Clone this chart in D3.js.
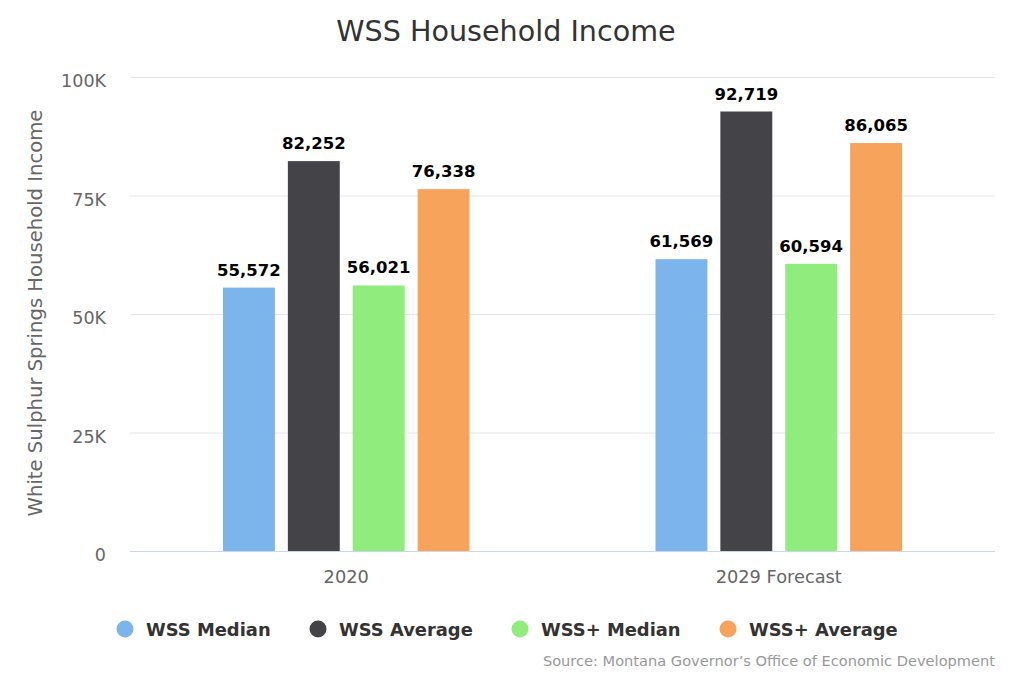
<!DOCTYPE html>
<html><head><meta charset="utf-8">
<script src="https://cdn.jsdelivr.net/npm/d3@7"></script>
<style>body{margin:0;background:#fff;} text{font-family:"DejaVu Sans",sans-serif;}</style>
</head><body>
<svg id="c" width="1012" height="675"></svg>
<script>
const categories = ["2020", "2029 Forecast"];
const seriesNames = ["WSS Median", "WSS Average", "WSS+ Median", "WSS+ Average"];
const seriesColors = ["#7cb5ec", "#434348", "#90ed7d", "#f7a35c"];
const wssMedian = [55572, 61569];
const wssAverage = [82252, 92719];
const wssPlusMedian = [56021, 60594];
const wssPlusAverage = [76338, 86065];
const yTicks = [0, 25000, 50000, 75000, 100000];
const yTickLabels = ["0", "25K", "50K", "75K", "100K"];
const seriesValues = [wssMedian, wssAverage, wssPlusMedian, wssPlusAverage];

const svg = d3.select("#c");
const W = 1012, H = 675;
const m = {left: 130, right: 995, top: 77, bottom: 551};

const x0 = d3.scaleBand().domain(categories).range([m.left, m.right]).paddingInner(0).paddingOuter(0);
const x1 = d3.scaleBand().domain(seriesNames).range([0, x0.bandwidth() * 0.6]).paddingInner(0.2).paddingOuter(0.1);
const y = d3.scaleLinear().domain([0, 100000]).range([m.bottom, m.top]);

// title
svg.append("text").attr("x", 506).attr("y", 41).attr("text-anchor", "middle")
  .attr("font-size", 28.6).attr("fill", "#333").text("WSS Household Income");

// gridlines
const yAxis = d3.axisLeft(y).tickValues(yTicks).tickFormat((d, i) => yTickLabels[i]).tickSize(0).tickPadding(0);
svg.append("g").selectAll("line").data(yTicks.filter(d => d > 0)).join("line")
  .attr("x1", m.left).attr("x2", m.right).attr("y1", d => y(d) + 0.5).attr("y2", d => y(d) + 0.5)
  .attr("stroke", "#e6e6e6").attr("stroke-width", 1);

const ga = svg.append("g").attr("transform", `translate(${m.left - 24},0)`).call(yAxis);
ga.select(".domain").remove();
ga.selectAll("text").attr("font-size", 17.5).attr("fill", "#666").attr("font-family", "DejaVu Sans").attr("dy", "0.55em");

// y title
svg.append("text").attr("transform", `translate(42,${(m.top + m.bottom) / 2 - 1}) rotate(-90)`)
  .attr("text-anchor", "middle").attr("font-size", 19.6).attr("fill", "#666")
  .text("White Sulphur Springs Household Income");

// bars
const groups = svg.append("g").selectAll("g").data(categories).join("g")
  .attr("transform", d => `translate(${x0(d) + x0.bandwidth() * 0.2},0)`);
groups.selectAll("rect").data((c, ci) => seriesNames.map((s, si) => ({s, si, v: seriesValues[si][ci]})))
  .join("rect")
  .attr("x", d => x1(d.s)).attr("width", x1.bandwidth())
  .attr("y", d => y(d.v)).attr("height", d => y(0) - y(d.v))
  .attr("fill", d => seriesColors[d.si]);
groups.selectAll("text.lbl").data((c, ci) => seriesNames.map((s, si) => ({s, si, v: seriesValues[si][ci]})))
  .join("text").attr("class", "lbl")
  .attr("x", d => x1(d.s) + x1.bandwidth() / 2).attr("y", d => y(d.v) - 12)
  .attr("text-anchor", "middle").attr("font-size", 16.5).attr("font-weight", "bold").attr("fill", "#000")
  .text(d => d3.format(",")(d.v));

// x axis line
svg.append("line").attr("x1", m.left).attr("x2", m.right).attr("y1", m.bottom + 0.5).attr("y2", m.bottom + 0.5)
  .attr("stroke", "#ccd6eb").attr("stroke-width", 1);
svg.append("g").selectAll("text").data(categories).join("text")
  .attr("x", d => x0(d) + x0.bandwidth() / 2).attr("y", 583).attr("text-anchor", "middle")
  .attr("font-size", 17.8).attr("fill", "#666").text(d => d);

// legend
const legendX = [125, 318, 520, 728];
const lg = svg.append("g").selectAll("g").data(seriesNames).join("g")
  .attr("transform", (d, i) => `translate(${legendX[i]},629)`);
lg.append("circle").attr("r", 8.5).attr("fill", (d, i) => seriesColors[i]);
lg.append("text").attr("x", 21).attr("y", 7).attr("font-size", 17.9).attr("font-weight", "bold").attr("fill", "#333").text(d => d);

// credits
svg.append("text").attr("x", 995).attr("y", 666).attr("text-anchor", "end")
  .attr("font-size", 14.6).attr("fill", "#999").text("Source: Montana Governor’s Office of Economic Development");
</script>
</body></html>
